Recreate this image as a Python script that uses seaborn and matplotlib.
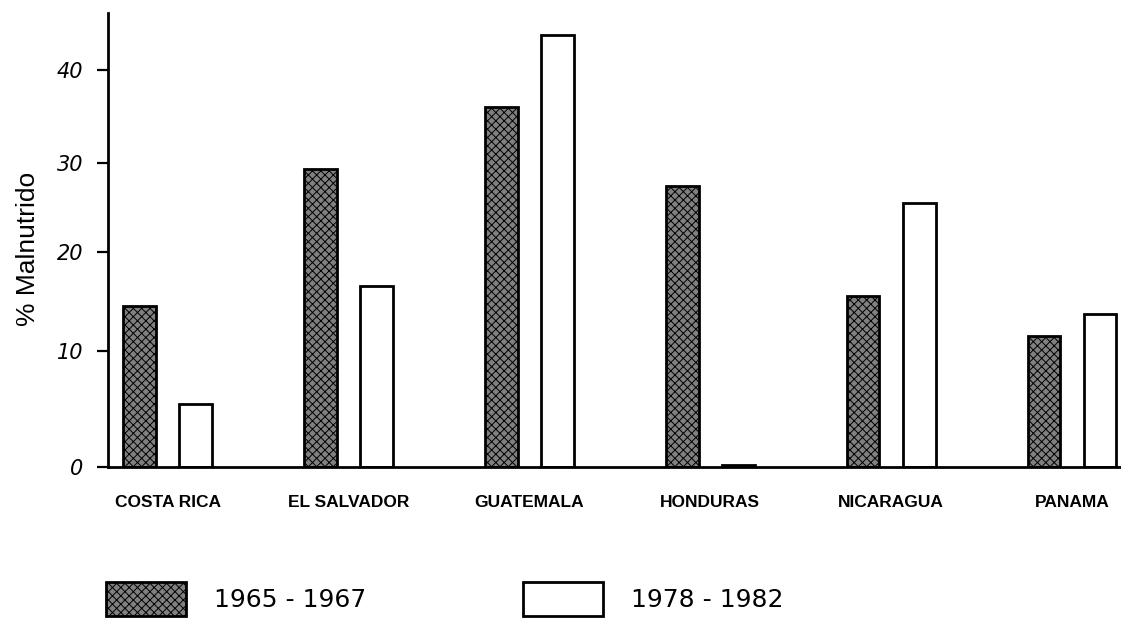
import numpy as np
import pandas as pd
import matplotlib
matplotlib.use('Agg')
import matplotlib.pyplot as plt
import seaborn as sns
from matplotlib.patches import Patch

# Values (% malnourished children)
countries = ['COSTA RICA', 'EL SALVADOR', 'GUATEMALA', 'HONDURAS', 'NICARAGUA', 'PANAMA']
periods = ['1965 - 1967', '1978 - 1982']
malnut_1965 = [14.5, 29.3, 36.0, 27.4, 15.5, 11.5]
malnut_1978 = [5.4, 16.6, 43.7, 0.2, 25.5, 13.7]
y_ticks = [0, 10, 20, 30, 40]

# The original axis is hand drawn and not evenly spaced:
# height of each tick above the baseline, used to build a piecewise scale
tick_vals = [-10, 0, 10, 20, 30, 40, 50]
tick_px = [-116, 0, 116, 215, 304, 397, 490]


def fwd(v):
    return np.interp(v, tick_vals, tick_px)


def inv(h):
    return np.interp(h, tick_px, tick_vals)


df = pd.DataFrame({
    'Country': countries * 2,
    'Period': [periods[0]] * len(countries) + [periods[1]] * len(countries),
    'Value': malnut_1965 + malnut_1978,
})

sns.set_theme(style='white')
plt.rcParams['font.family'] = ['Liberation Sans', 'DejaVu Sans']
plt.rcParams['hatch.linewidth'] = 0.7
for key in ['text.color', 'axes.labelcolor', 'xtick.color', 'ytick.color']:
    plt.rcParams[key] = 'black'

dark = '#808080'
fig = plt.figure(figsize=(11.21, 6.23), dpi=100)
ax = fig.add_axes([108 / 1121, 156 / 623, 1 - 108 / 1121, (467 - 13) / 623])

sns.barplot(data=df, x='Country', y='Value', hue='Period', order=countries,
            hue_order=periods, palette={periods[0]: dark, periods[1]: 'white'},
            width=0.62, gap=0.42, edgecolor='black', linewidth=2,
            legend=False, ax=ax)

# stippled look for the first period
for bar in ax.containers[0]:
    bar.set_hatch('xxxx')

ax.set_yscale('function', functions=(fwd, inv))
ax.set_ylim(0, 46.1)
ax.set_xlim(-0.33, 5.27)
ax.set_yticks(y_ticks)
ax.set_yticklabels([str(t) for t in y_ticks], fontsize=15, style='italic',
                   family='DejaVu Sans')
ax.tick_params(axis='y', left=True, length=8, width=1.6, color='black', pad=10)
ax.tick_params(axis='x', bottom=False, pad=14)
for lab in ax.get_xticklabels():
    lab.set_fontsize(12.5)
    lab.set_fontweight('bold')
ax.set_xlabel('')
ax.set_ylabel('% Malnutrido', fontsize=19)
ax.yaxis.set_label_coords(-0.067, 0.48)

sns.despine(ax=ax)
for side in ['left', 'bottom']:
    ax.spines[side].set_linewidth(2)
    ax.spines[side].set_color('black')

handles = [Patch(facecolor=dark, edgecolor='black', hatch='xxxx', linewidth=2),
           Patch(facecolor='white', edgecolor='black', linewidth=2)]
fig.legend(handles, periods, loc='lower left', ncol=2, frameon=False,
           bbox_to_anchor=(106 / 1121, 7 / 623), borderpad=0, borderaxespad=0,
           handlelength=3.2, handleheight=1.7, handletextpad=1.1,
           columnspacing=6.3, prop={'family': 'DejaVu Sans', 'size': 18})

fig.savefig('out.png', dpi=100)
